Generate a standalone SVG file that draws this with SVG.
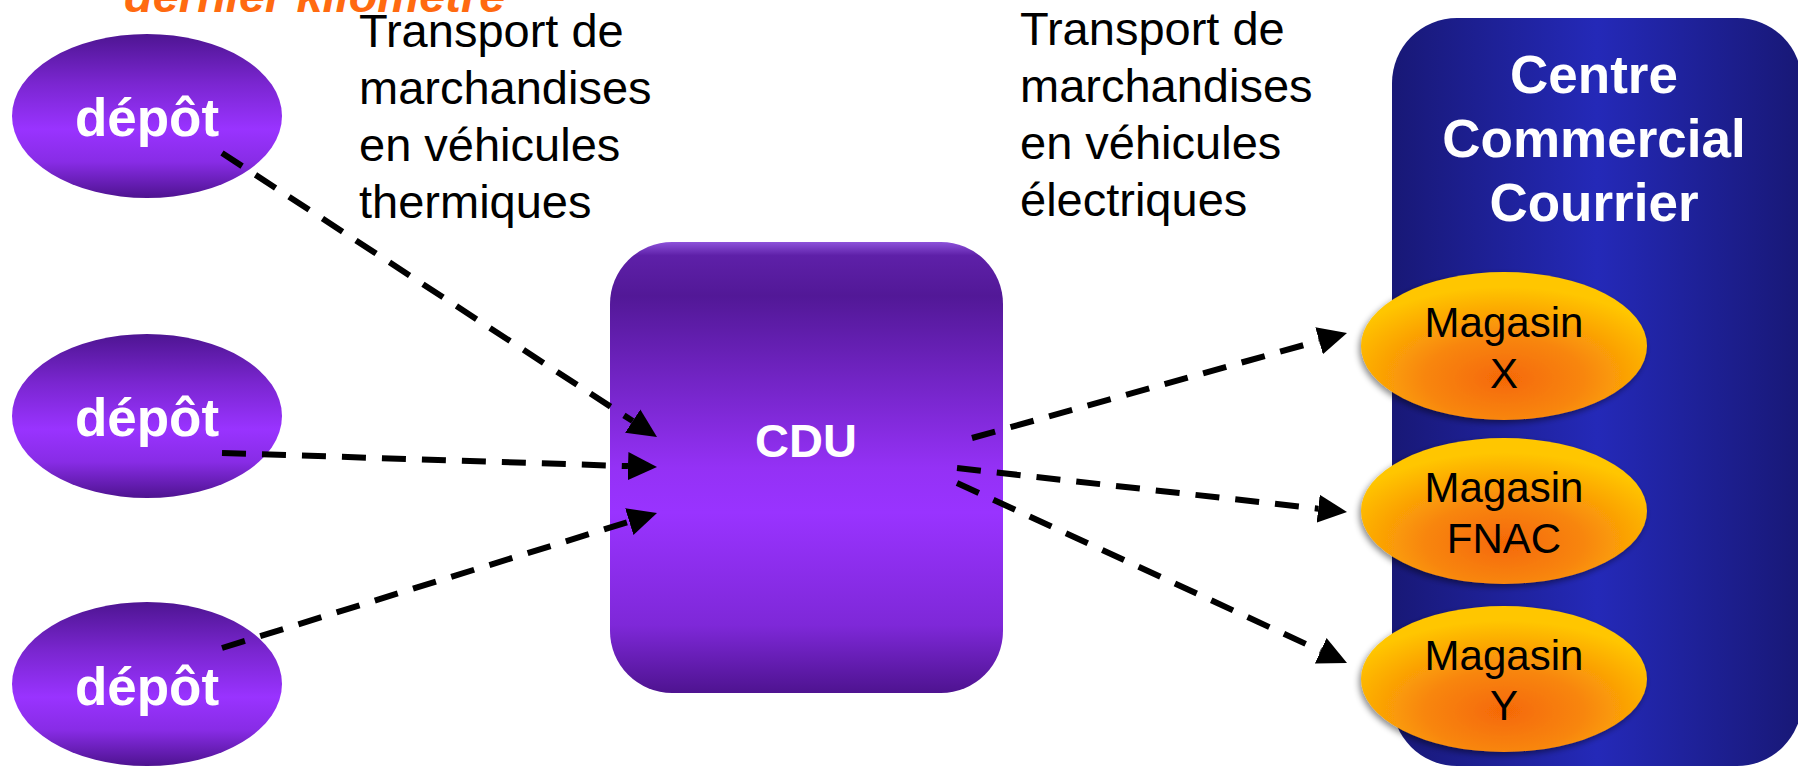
<svg xmlns="http://www.w3.org/2000/svg" width="1798" height="768" viewBox="0 0 1798 768">
<style>
.lbl{font-family:"Liberation Sans",Arial,sans-serif;font-size:47px;fill:#000}
.dep{font-family:"Liberation Sans",Arial,sans-serif;font-size:53px;font-weight:bold;fill:#fff;text-anchor:middle}
.mag{font-family:"Liberation Sans",Arial,sans-serif;font-size:42px;fill:#000;text-anchor:middle}
.ttl{font-family:"Liberation Sans",Arial,sans-serif;font-size:53px;font-weight:bold;fill:#fff;text-anchor:middle}
.conn{fill:none;stroke:#000;stroke-width:6;stroke-dasharray:24 16;marker-end:url(#ah)}
</style>
<defs>
<linearGradient id="gDep" x1="0" y1="0" x2="0" y2="1">
<stop offset="0" stop-color="#4E1592"/>
<stop offset="0.3" stop-color="#7A26D0"/>
<stop offset="0.58" stop-color="#9933FF"/>
<stop offset="0.78" stop-color="#882CE6"/>
<stop offset="1" stop-color="#4E1390"/>
</linearGradient>
<linearGradient id="gCdu" x1="0" y1="0" x2="0" y2="1">
<stop offset="0" stop-color="#8D52DA"/>
<stop offset="0.03" stop-color="#5E20A8"/>
<stop offset="0.12" stop-color="#521897"/>
<stop offset="0.5" stop-color="#9431F5"/>
<stop offset="0.6" stop-color="#9933FF"/>
<stop offset="0.85" stop-color="#7E28D8"/>
<stop offset="1" stop-color="#4E1390"/>
</linearGradient>
<linearGradient id="gCc" x1="0" y1="0" x2="1" y2="0">
<stop offset="0" stop-color="#181876"/>
<stop offset="0.5" stop-color="#2429B8"/>
<stop offset="1" stop-color="#181876"/>
</linearGradient>
<radialGradient id="gMag" cx="0.5" cy="0.72" r="0.62">
<stop offset="0" stop-color="#F56806"/>
<stop offset="0.45" stop-color="#F8860A"/>
<stop offset="1" stop-color="#FFC600"/>
</radialGradient>
<filter id="sh" x="-10%" y="-10%" width="120%" height="130%">
<feDropShadow dx="-2" dy="3" stdDeviation="3" flood-color="#000" flood-opacity="0.45"/>
</filter>
<marker id="ah" markerUnits="userSpaceOnUse" viewBox="0 -15 30 30" refX="0" refY="0" markerWidth="30" markerHeight="30" orient="auto">
<path d="M0,-14 L29,0 L0,14 Z" fill="#000"/>
</marker>
</defs>
<rect width="1798" height="768" fill="#fff"/>

<g id="title">
<text x="124" y="12" style="font-family:'Liberation Sans',Arial,sans-serif;font-size:47px;font-weight:bold;font-style:italic;fill:#FF6A10">dernier kilomètre</text>
</g>

<g id="label-thermiques">
<text class="lbl" x="359" y="47">Transport de</text>
<text class="lbl" x="359" y="104">marchandises</text>
<text class="lbl" x="359" y="161">en véhicules</text>
<text class="lbl" x="359" y="218">thermiques</text>
</g>

<g id="label-electriques">
<text class="lbl" x="1020" y="45">Transport de</text>
<text class="lbl" x="1020" y="102">marchandises</text>
<text class="lbl" x="1020" y="159">en véhicules</text>
<text class="lbl" x="1020" y="216">électriques</text>
</g>

<g id="depot1">
<ellipse cx="147" cy="116" rx="135" ry="82" fill="url(#gDep)"/>
<text class="dep" x="147" y="136">dépôt</text>
</g>
<g id="depot2">
<ellipse cx="147" cy="416" rx="135" ry="82" fill="url(#gDep)"/>
<text class="dep" x="147" y="436">dépôt</text>
</g>
<g id="depot3">
<ellipse cx="147" cy="684" rx="135" ry="82" fill="url(#gDep)"/>
<text class="dep" x="147" y="705">dépôt</text>
</g>

<g id="cdu">
<rect x="610" y="242" width="393" height="451" rx="62" fill="url(#gCdu)"/>
<text x="806" y="457" style="font-family:'Liberation Sans',Arial,sans-serif;font-size:47px;font-weight:bold;fill:#fff;text-anchor:middle">CDU</text>
</g>

<g id="centre-commercial">
<rect x="1392" y="18" width="410" height="748" rx="65" fill="url(#gCc)"/>
<text class="ttl" x="1594" y="93">Centre</text>
<text class="ttl" x="1594" y="157">Commercial</text>
<text class="ttl" x="1594" y="221">Courrier</text>
</g>

<g id="magasin-x">
<ellipse cx="1504" cy="346" rx="143" ry="74" fill="url(#gMag)" filter="url(#sh)"/>
<text class="mag" x="1504" y="337">Magasin</text>
<text class="mag" x="1504" y="388">X</text>
</g>
<g id="magasin-fnac">
<ellipse cx="1504" cy="511" rx="143" ry="73" fill="url(#gMag)" filter="url(#sh)"/>
<text class="mag" x="1504" y="502">Magasin</text>
<text class="mag" x="1504" y="553">FNAC</text>
</g>
<g id="magasin-y">
<ellipse cx="1504" cy="679" rx="143" ry="73" fill="url(#gMag)" filter="url(#sh)"/>
<text class="mag" x="1504" y="670">Magasin</text>
<text class="mag" x="1504" y="720">Y</text>
</g>

<g id="connectors">
<path class="conn" d="M222,153 L632.7,421.1"/>
<path class="conn" d="M222,453 L628,466.1"/>
<path class="conn" d="M222,648 L629.3,521.6"/>
<path class="conn" d="M972,438 L1319.1,340.8"/>
<path class="conn" d="M957,468 L1318.2,508.7"/>
<path class="conn" d="M957,483 L1320.7,650.8"/>
</g>
</svg>
